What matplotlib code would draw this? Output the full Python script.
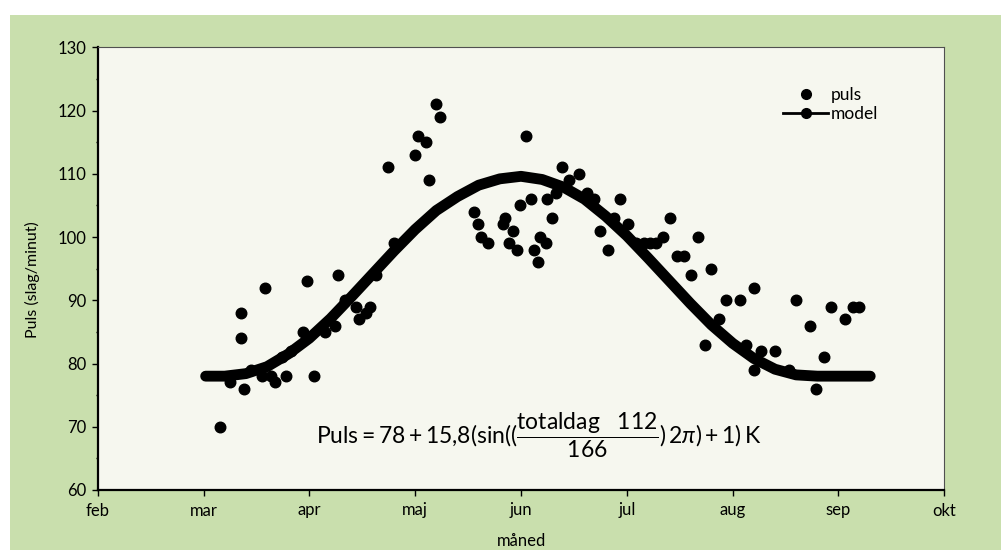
import matplotlib
matplotlib.use('Agg')
import matplotlib.pyplot as plt
from matplotlib.patches import Rectangle
from matplotlib.lines import Line2D
from matplotlib.ticker import MultipleLocator

# x er måned som kommatal (2 = feb, 3 = mar, ...)
maaneder = ['feb', 'mar', 'apr', 'maj', 'jun', 'jul', 'aug', 'sep', 'okt']
maaned_pos = [2, 3, 4, 5, 6, 7, 8, 9, 10]

puls_maaned = [3.16, 3.25, 3.35, 3.35, 3.38, 3.45, 3.55, 3.58, 3.64, 3.68,
               3.74, 3.78, 3.83, 3.94, 3.98, 4.04, 4.15, 4.24, 4.27, 4.34,
               4.44, 4.47, 4.54, 4.57, 4.63, 4.74, 4.80, 5.00, 5.03, 5.10,
               5.13, 5.20, 5.23, 5.56, 5.59, 5.62, 5.69, 5.83, 5.85, 5.89,
               5.92, 5.96, 5.99, 6.05, 6.09, 6.12, 6.16, 6.18, 6.24, 6.25,
               6.29, 6.33, 6.39, 6.45, 6.55, 6.62, 6.69, 6.75, 6.82, 6.88,
               6.94, 7.01, 7.09, 7.16, 7.22, 7.28, 7.34, 7.41, 7.47, 7.54,
               7.61, 7.67, 7.74, 7.80, 7.87, 7.94, 8.07, 8.13, 8.20, 8.20,
               8.27, 8.40, 8.53, 8.60, 8.73, 8.79, 8.86, 8.93, 9.06, 9.14,
               9.19]
puls = [70, 77, 84, 88, 76, 79, 78, 92, 78, 77,
        81, 78, 82, 85, 93, 78, 85, 86, 94, 90,
        89, 87, 88, 89, 94, 111, 99, 113, 116, 115,
        109, 121, 119, 104, 102, 100, 99, 102, 103, 99,
        101, 98, 105, 116, 106, 98, 96, 100, 99, 106,
        103, 107, 111, 109, 110, 107, 106, 101, 98, 103,
        106, 102, 99, 99, 99, 99, 100, 103, 97, 97,
        94, 100, 83, 95, 87, 90, 90, 83, 92, 79,
        82, 82, 79, 90, 86, 76, 81, 89, 87, 89,
        89]

model_maaned = [3.02, 3.2, 3.4, 3.6, 3.8, 4.0, 4.2, 4.4, 4.6, 4.8, 5.0,
                5.2, 5.4, 5.6, 5.8, 6.0, 6.2, 6.4, 6.6, 6.8, 7.0, 7.2,
                7.4, 7.6, 7.8, 8.0, 8.2, 8.4, 8.6, 8.8, 9.0, 9.3]
model = [78.0, 78.0, 78.4, 79.5, 81.5, 84.0, 87.1, 90.6, 94.2, 97.8, 101.2,
         104.2, 106.4, 108.2, 109.2, 109.6, 109.1, 107.9, 106.0, 103.3, 100.2, 96.7,
         93.1, 89.5, 86.1, 83.2, 80.8, 79.1, 78.2, 78.0, 78.0, 78.0]

plt.rcParams['font.family'] = ['Lato', 'DejaVu Sans']
plt.rcParams['mathtext.fontset'] = 'custom'
plt.rcParams['mathtext.rm'] = 'Lato'
plt.rcParams['mathtext.it'] = 'Lato:italic'
plt.rcParams['mathtext.bf'] = 'Lato:bold'

fig = plt.figure(figsize=(10.01, 5.5), dpi=100, facecolor='white')
fig.patches.append(Rectangle((10 / 1001, 0), 1, 535 / 550, transform=fig.transFigure,
                             facecolor='#c9dfad', edgecolor='none', zorder=-10))

ax = fig.add_axes([97.7 / 1001, 60 / 550, 846.6 / 1001, 442.7 / 550])
ax.set_facecolor('#f6f7ef')

ax.plot(puls_maaned, puls, 'o', color='black', ms=7.6, mec='black', zorder=3)
ax.plot(model_maaned, model, '-', color='black', lw=7.8,
        solid_capstyle='round', solid_joinstyle='round', zorder=3)

ax.set_xlim(2, 10)
ax.set_ylim(60, 130)
ax.set_xticks(maaned_pos)
ax.set_xticklabels(maaneder)
ax.yaxis.set_major_locator(MultipleLocator(10))
ax.yaxis.set_minor_locator(MultipleLocator(5))
ax.tick_params(axis='both', which='major', direction='out', length=4, width=1,
               labelsize=12, colors='black', pad=4)
ax.tick_params(axis='y', which='minor', direction='out', length=1.5, width=1)
ax.tick_params(axis='x', pad=5)

for s in ['left', 'bottom']:
    ax.spines[s].set_linewidth(1.6)
    ax.spines[s].set_color('black')
for s in ['top', 'right']:
    ax.spines[s].set_linewidth(0.8)
    ax.spines[s].set_color('#505050')

ax.set_ylabel('Puls (slag/minut)', fontsize=11.5)
ax.yaxis.set_label_coords(-0.068, 0.475)
ax.set_xlabel('måned', fontsize=12)
ax.xaxis.set_label_coords(0.5, -0.097)

ax.text(0.258, 0.124,
        r'$\mathrm{Puls} = 78 + 15{,}8(\mathrm{sin}((\dfrac{\mathrm{totaldag}\quad 112}{166})\,2\pi) + 1)\,\mathrm{K}$',
        transform=ax.transAxes, ha='left', va='center', fontsize=16.5)

handles = [Line2D([], [], ls='none', marker='o', color='black', ms=7),
           Line2D([], [], ls='-', lw=2, marker='o', color='black', ms=7)]
ax.legend(handles, ['puls', 'model'], loc='upper left', frameon=False,
          bbox_to_anchor=(783 / 1001, 1 - 87 / 550), bbox_transform=fig.transFigure,
          borderpad=0, borderaxespad=0, handlelength=2.6, handletextpad=0.15,
          labelspacing=0.2, fontsize=12.5)

fig.savefig('out.png', dpi=100, facecolor='white')
